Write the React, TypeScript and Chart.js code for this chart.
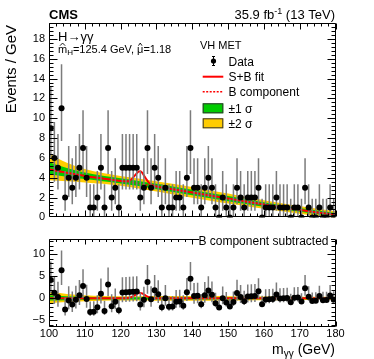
import React, { useEffect, useRef } from "react";
import { Chart, registerables } from "chart.js";

Chart.register(...registerables);

const FONT = '"Liberation Sans", Arial, Helvetica, sans-serif';

// ---- data ----
const massBins = [
  100.5, 101.5, 102.5, 103.5, 104.5, 105.5, 106.5, 107.5, 108.5, 109.5,
  110.5, 111.5, 112.5, 113.5, 114.5, 115.5, 116.5, 117.5, 118.5, 119.5,
  120.5, 121.5, 122.5, 123.5, 124.5, 125.5, 126.5, 127.5, 128.5, 129.5,
  130.5, 131.5, 132.5, 133.5, 134.5, 135.5, 136.5, 137.5, 138.5, 139.5,
  140.5, 141.5, 142.5, 143.5, 144.5, 145.5, 146.5, 147.5, 148.5, 149.5,
  150.5, 151.5, 152.5, 153.5, 154.5, 155.5, 156.5, 157.5, 158.5, 159.5,
  160.5, 161.5, 162.5, 163.5, 164.5, 165.5, 166.5, 167.5, 168.5, 169.5,
  170.5, 171.5, 172.5, 173.5, 174.5, 175.5, 176.5, 177.5, 178.5, 179.5,
];
const eventCounts = [
  9, 6, 5, 11, 2, 4, 3, 4, 5, 7,
  4, 1, 1, 2, 5, 1, 7, 2, 3, 1,
  5, 5, 5, 5, 5, 2, 3, 7, 3, 5,
  4, 1, 3, 1, 1, 2, 2, 1, 4, 7,
  3, 3, 1, 3, 4, 3, 1, 0, 2, 1,
  0, 1, 3, 2, 1, 2, 2, 2, 3, 0,
  1, 1, 1, 2, 1, 1, 1, 0, 1, 1,
  0, 3, 1, 0, 0, 1, 0, 0, 1, 0,
];
// 68% Poisson (Garwood) interval bounds, indexed by count
const garwoodLow = [0, 0.173, 0.708, 1.367, 2.086, 2.84, 3.62, 4.419, 5.232, 6.057, 6.891, 7.734];
const garwoodHigh = [1.841, 3.3, 4.638, 5.918, 7.163, 8.382, 9.584, 10.77, 11.95, 13.11, 14.27, 15.42];

const bkgMass = [100, 105, 110, 115, 120, 121, 122, 123, 124, 125, 125.5, 126, 127, 128, 129, 130, 135, 140, 145, 150, 155, 160, 165, 170, 175, 180];
const bkgValues = [4.85, 4.5, 4.18, 3.92, 3.68, 3.63, 3.58, 3.53, 3.47, 3.42, 3.4, 3.37, 3.3, 3.24, 3.18, 3.12, 2.82, 2.52, 2.2, 1.9, 1.6, 1.3, 1.02, 0.76, 0.5, 0.27];
const sigValues = [0, 0, 0, 0, 0, 0.01, 0.07, 0.29, 0.76, 1.2, 1.25, 1.14, 0.65, 0.22, 0.045, 0, 0, 0, 0, 0, 0, 0, 0, 0, 0, 0];

const bandMass = [100, 105, 110, 115, 120, 125, 130, 135, 140, 145, 150, 155, 160, 165, 170, 175, 180];
const sigma1Up = [0.7, 0.48, 0.35, 0.28, 0.26, 0.26, 0.27, 0.28, 0.28, 0.27, 0.26, 0.24, 0.22, 0.21, 0.2, 0.19, 0.18];
const sigma1Down = [0.5, 0.4, 0.32, 0.27, 0.26, 0.26, 0.27, 0.28, 0.28, 0.27, 0.26, 0.24, 0.22, 0.21, 0.2, 0.19, 0.18];
const sigma2Up = [1.6, 1.0, 0.7, 0.55, 0.5, 0.5, 0.52, 0.54, 0.54, 0.52, 0.5, 0.47, 0.44, 0.41, 0.38, 0.36, 0.35];
const sigma2Down = [1.1, 0.85, 0.65, 0.53, 0.5, 0.5, 0.52, 0.54, 0.54, 0.52, 0.5, 0.47, 0.44, 0.41, 0.38, 0.36, 0.35];

const xTickLabels = [100, 110, 120, 130, 140, 150, 160, 170, 180];
const upperYTickLabels = [0, 2, 4, 6, 8, 10, 12, 14, 16, 18];
const lowerYTickLabels = [-5, 0, 5, 10];

const GREEN = "#00cc00";
const YELLOW = "#ffcc00";
const RED = "#ff0000";
const ERR = "#7c7c7c";

function bkgAt(m: number): number {
  for (let i = 0; i < bkgMass.length - 1; i++) {
    if (m >= bkgMass[i] && m <= bkgMass[i + 1]) {
      const t = (m - bkgMass[i]) / (bkgMass[i + 1] - bkgMass[i]);
      return bkgValues[i] + t * (bkgValues[i + 1] - bkgValues[i]);
    }
  }
  return bkgValues[bkgValues.length - 1];
}
const bkgKnot = (m: number) => bkgValues[bkgMass.indexOf(m)];

// ---- drawing helpers ----
type Part = { t: string; size: number; dy?: number; bold?: boolean; hat?: boolean };
function rich(ctx: CanvasRenderingContext2D, parts: Part[], x: number, y: number, align: "left" | "right" = "left") {
  ctx.textAlign = "left";
  ctx.textBaseline = "alphabetic";
  const widths = parts.map((p) => {
    ctx.font = `${p.bold ? "bold " : ""}${p.size}px ${FONT}`;
    return ctx.measureText(p.t).width;
  });
  const total = widths.reduce((a, b) => a + b, 0);
  let cx = align === "right" ? x - total : x;
  parts.forEach((p, i) => {
    ctx.font = `${p.bold ? "bold " : ""}${p.size}px ${FONT}`;
    const yy = y + (p.dy || 0);
    ctx.fillText(p.t, cx, yy);
    if (p.hat) {
      const w = widths[i];
      ctx.save();
      ctx.lineWidth = 0.9;
      ctx.strokeStyle = "#000";
      ctx.beginPath();
      ctx.moveTo(cx + w * 0.22, yy - p.size * 0.62);
      ctx.lineTo(cx + w * 0.5, yy - p.size * 0.86);
      ctx.lineTo(cx + w * 0.78, yy - p.size * 0.62);
      ctx.stroke();
      ctx.restore();
    }
    cx += widths[i];
  });
}

function drawFrameTicks(
  chart: any,
  xMajorLen: number,
  xMinorLen: number,
  yValues: { v: number; major: boolean }[],
  yMajorLen: number,
  yMinorLen: number
) {
  const { ctx, chartArea: a } = chart;
  const xs = chart.scales.x;
  const ys = chart.scales.y;
  const L = Math.round(a.left) + 0.5;
  const R = Math.round(a.right) - 0.5;
  const T = Math.round(a.top) + 0.5;
  const B = Math.round(a.bottom) - 0.5;
  ctx.save();
  ctx.strokeStyle = "#000";
  ctx.lineWidth = 1;
  ctx.beginPath();
  ctx.rect(L, T, R - L, B - T);
  for (let i = 0; i <= 40; i++) {
    const v = 100 + 2 * i;
    const px = Math.round(xs.getPixelForValue(v)) + 0.5;
    const len = i % 5 === 0 ? xMajorLen : xMinorLen;
    ctx.moveTo(px, B);
    ctx.lineTo(px, B - len);
    ctx.moveTo(px, T);
    ctx.lineTo(px, T + len);
  }
  for (const t of yValues) {
    const py = Math.round(ys.getPixelForValue(t.v)) + 0.5;
    if (py < T || py > B) continue;
    const len = t.major ? yMajorLen : yMinorLen;
    ctx.moveTo(L, py);
    ctx.lineTo(L + len, py);
    ctx.moveTo(R, py);
    ctx.lineTo(R - len, py);
  }
  ctx.stroke();
  ctx.restore();
}

const upperYTickMarks: { v: number; major: boolean }[] = [];
for (let i = 0; i <= 49; i++) upperYTickMarks.push({ v: i * 0.4, major: i % 5 === 0 });
const lowerYTickMarks: { v: number; major: boolean }[] = [];
for (let i = -6; i <= 13; i++) lowerYTickMarks.push({ v: i, major: i % 5 === 0 });

const upperDeco = {
  id: "upperDeco",
  afterDraw(chart: any) {
    const ctx: CanvasRenderingContext2D = chart.ctx;
    drawFrameTicks(chart, 6, 3, upperYTickMarks, 8, 4);
    ctx.save();
    ctx.fillStyle = "#000";
    // header
    rich(ctx, [{ t: "CMS", size: 13, bold: true }], 49, 18.5);
    rich(ctx, [{ t: "35.9 fb", size: 13 }, { t: "-1", size: 9, dy: -5 }, { t: " (13 TeV)", size: 13 }], 335, 18.5, "right");
    // y title
    ctx.save();
    ctx.translate(16, 25);
    ctx.rotate(-Math.PI / 2);
    ctx.font = `15px ${FONT}`;
    ctx.textAlign = "right";
    ctx.textBaseline = "alphabetic";
    ctx.fillText("Events / GeV", 0, 0);
    ctx.restore();
    // process labels
    rich(ctx, [{ t: "H\u2192\u03b3\u03b3", size: 13 }], 58, 40.5);
    rich(
      ctx,
      [
        { t: "m", size: 11, hat: true },
        { t: "H", size: 8, dy: 2.5 },
        { t: "=125.4 GeV, ", size: 11 },
        { t: "\u03bc", size: 11, hat: true },
        { t: "=1.18", size: 11 },
      ],
      58,
      52.5
    );
    rich(ctx, [{ t: "VH MET", size: 11 }], 200, 48.5);
    // legend
    const lx0 = 202.7;
    const lx1 = 223.3;
    const tx = 228.5;
    // Data
    ctx.strokeStyle = "#000";
    ctx.lineWidth = 1;
    ctx.beginPath();
    ctx.moveTo(213.5, 56);
    ctx.lineTo(213.5, 66);
    ctx.moveTo(212, 56.5);
    ctx.lineTo(215, 56.5);
    ctx.moveTo(212, 65.5);
    ctx.lineTo(215, 65.5);
    ctx.stroke();
    ctx.beginPath();
    ctx.arc(213.5, 61, 2.6, 0, Math.PI * 2);
    ctx.fill();
    rich(ctx, [{ t: "Data", size: 12 }], tx, 65.5);
    // S+B
    ctx.strokeStyle = RED;
    ctx.lineWidth = 2;
    ctx.beginPath();
    ctx.moveTo(lx0, 76.7);
    ctx.lineTo(lx1, 76.7);
    ctx.stroke();
    rich(ctx, [{ t: "S+B fit", size: 12 }], tx, 81);
    // B component
    ctx.setLineDash([2, 1.5]);
    ctx.lineWidth = 1.5;
    ctx.beginPath();
    ctx.moveTo(lx0, 91.7);
    ctx.lineTo(lx1, 91.7);
    ctx.stroke();
    ctx.setLineDash([]);
    rich(ctx, [{ t: "B component", size: 12 }], tx, 96);
    // boxes
    ctx.lineWidth = 1;
    ctx.strokeStyle = "#333";
    ctx.fillStyle = GREEN;
    ctx.fillRect(lx0, 103.3, lx1 - lx0, 10);
    ctx.strokeRect(lx0 + 0.5, 103.8, lx1 - lx0 - 1, 9);
    ctx.fillStyle = YELLOW;
    ctx.fillRect(lx0, 118.3, lx1 - lx0, 10);
    ctx.strokeRect(lx0 + 0.5, 118.8, lx1 - lx0 - 1, 9);
    ctx.fillStyle = "#000";
    rich(ctx, [{ t: "\u00b11 \u03c3", size: 12 }], tx, 112.5);
    rich(ctx, [{ t: "\u00b12 \u03c3", size: 12 }], tx, 127.5);
    ctx.restore();
  },
};

const lowerDeco = {
  id: "lowerDeco",
  afterDraw(chart: any) {
    const ctx: CanvasRenderingContext2D = chart.ctx;
    drawFrameTicks(chart, 5, 2.5, lowerYTickMarks, 8, 4);
    ctx.save();
    // white legend box covering the frame ticks, as in the original
    ctx.fillStyle = "#fff";
    ctx.fillRect(199, 5, 132, 16);
    ctx.fillStyle = "#000";
    rich(ctx, [{ t: "B component subtracted", size: 12 }], 328.5, 17, "right");
    rich(
      ctx,
      [
        { t: "m", size: 14 },
        { t: "\u03b3\u03b3", size: 10, dy: 3 },
        { t: " (GeV)", size: 14 },
      ],
      335,
      126,
      "right"
    );
    ctx.restore();
  },
};

function bandDatasets(center: (m: number) => number, order1: number, order2: number) {
  const base = {
    type: "line",
    borderWidth: 0,
    borderColor: "rgba(0,0,0,0)",
    pointRadius: 0,
    cubicInterpolationMode: "monotone",
  };
  return [
    { ...base, data: bandMass.map((m, i) => ({ x: m, y: center(m) + sigma2Up[i] })), backgroundColor: YELLOW, fill: "+1", order: order2 },
    { ...base, data: bandMass.map((m, i) => ({ x: m, y: center(m) - sigma2Down[i] })), fill: false, order: order2 },
    { ...base, data: bandMass.map((m, i) => ({ x: m, y: center(m) + sigma1Up[i] })), backgroundColor: GREEN, fill: "+1", order: order1 },
    { ...base, data: bandMass.map((m, i) => ({ x: m, y: center(m) - sigma1Down[i] })), fill: false, order: order1 },
  ];
}

function yScale(min: number, max: number, ticks: number[]) {
  return {
    type: "linear",
    min,
    max,
    grid: { display: false, drawTicks: false },
    border: { display: false },
    ticks: {
      padding: 4,
      color: "#000",
      font: { family: FONT, size: 11 },
      callback: (v: number) => String(v).replace("-", "\u2212"),
    },
    afterBuildTicks: (s: any) => {
      s.ticks = ticks.map((v) => ({ value: v }));
    },
    afterFit: (s: any) => {
      s.width = 49;
    },
  };
}

function errorBars(lo: (i: number) => number, hi: (i: number) => number) {
  return {
    type: "bar",
    data: massBins.map((m, i) => ({ x: m, y: [lo(i), hi(i)] })),
    backgroundColor: ERR,
    barThickness: 0.85,
    order: 2,
  };
}

function upperConfig(): any {
  return {
    type: "scatter",
    data: {
      datasets: [
        ...bandDatasets(bkgKnot, 9, 10),
        {
          type: "line",
          data: bkgMass.map((m, i) => ({ x: m, y: bkgValues[i] })),
          borderColor: RED,
          borderWidth: 1.5,
          borderDash: [2, 1.5],
          pointRadius: 0,
          fill: false,
          cubicInterpolationMode: "monotone",
          order: 5,
        },
        {
          type: "line",
          data: bkgMass.map((m, i) => ({ x: m, y: bkgValues[i] + sigValues[i] })),
          borderColor: RED,
          borderWidth: 2,
          pointRadius: 0,
          fill: false,
          cubicInterpolationMode: "monotone",
          order: 4,
        },
        errorBars(
          (i) => garwoodLow[eventCounts[i]],
          (i) => garwoodHigh[eventCounts[i]]
        ),
        {
          type: "scatter",
          data: massBins.map((m, i) => ({ x: m, y: eventCounts[i] })),
          backgroundColor: "#000",
          borderWidth: 0,
          pointRadius: 3,
          order: 1,
        },
      ],
    },
    options: {
      responsive: false,
      animation: false,
      devicePixelRatio: 1,
      events: [],
      layout: { padding: { top: 23, right: 38.5, bottom: 8.5, left: 0 } },
      plugins: { legend: { display: false }, tooltip: { enabled: false } },
      scales: {
        x: { type: "linear", min: 100, max: 180, display: false, offset: false },
        y: yScale(0, 19.6, upperYTickLabels),
      },
    },
    plugins: [upperDeco],
  };
}

function lowerConfig(): any {
  return {
    type: "scatter",
    data: {
      datasets: [
        ...bandDatasets(() => 0, 9, 10),
        {
          type: "line",
          data: bkgMass.map((m, i) => ({ x: m, y: sigValues[i] })),
          borderColor: RED,
          borderWidth: 2,
          pointRadius: 0,
          fill: false,
          cubicInterpolationMode: "monotone",
          order: 4,
        },
        errorBars(
          (i) => garwoodLow[eventCounts[i]] - bkgAt(massBins[i]),
          (i) => garwoodHigh[eventCounts[i]] - bkgAt(massBins[i])
        ),
        {
          type: "scatter",
          data: massBins.map((m, i) => ({ x: m, y: eventCounts[i] - bkgAt(m) })),
          backgroundColor: "#000",
          borderWidth: 0,
          pointRadius: 3,
          order: 1,
        },
      ],
    },
    options: {
      responsive: false,
      animation: false,
      devicePixelRatio: 1,
      events: [],
      layout: { padding: { top: 4, right: 38.5, bottom: 0, left: 0 } },
      plugins: { legend: { display: false }, tooltip: { enabled: false } },
      scales: {
        x: {
          type: "linear",
          min: 100,
          max: 180,
          offset: false,
          grid: { display: false, drawTicks: false },
          border: { display: false },
          ticks: {
            padding: 1,
            color: "#000",
            maxRotation: 0,
            autoSkip: false,
            font: { family: FONT, size: 11 },
          },
          afterBuildTicks: (s: any) => {
            s.ticks = xTickLabels.map((v) => ({ value: v }));
          },
          afterFit: (s: any) => {
            s.height = 32.5;
          },
        },
        y: yScale(-6.4, 13.6, lowerYTickLabels),
      },
    },
    plugins: [lowerDeco],
  };
}

export default function App() {
  const topRef = useRef<HTMLCanvasElement>(null);
  const botRef = useRef<HTMLCanvasElement>(null);
  useEffect(() => {
    const c1 = new Chart(topRef.current as HTMLCanvasElement, upperConfig());
    const c2 = new Chart(botRef.current as HTMLCanvasElement, lowerConfig());
    return () => {
      c1.destroy();
      c2.destroy();
    };
  }, []);
  return (
    <div style={{ position: "fixed", left: 0, top: 0, width: 374, height: 359, background: "#fff" }}>
      <canvas
        ref={topRef}
        width={374}
        height={228}
        style={{ position: "absolute", left: 0, top: 0, width: 374, height: 228 }}
      />
      <canvas
        ref={botRef}
        width={374}
        height={131}
        style={{ position: "absolute", left: 0, top: 228, width: 374, height: 131 }}
      />
    </div>
  );
}
